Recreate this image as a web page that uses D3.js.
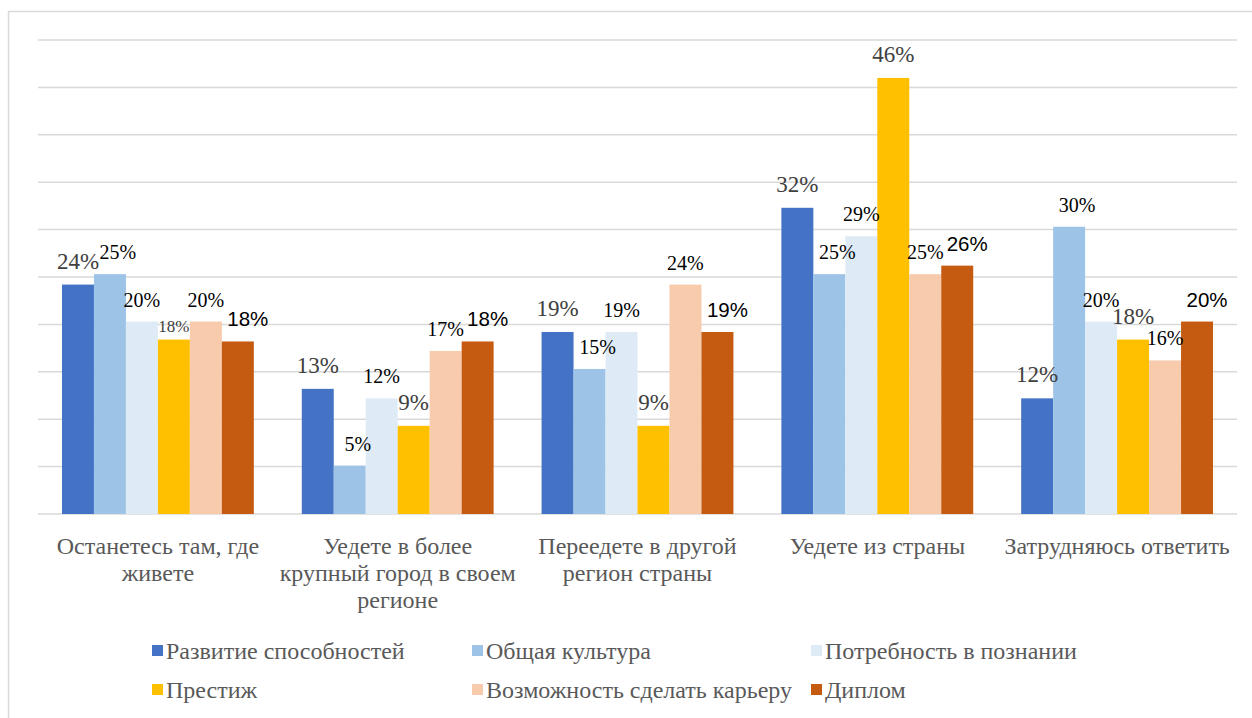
<!DOCTYPE html>
<html><head><meta charset="utf-8">
<script src="https://cdn.jsdelivr.net/npm/d3@7"></script>
<style>body{margin:0;background:#fff}svg{display:block}
.serif{font-family:'Liberation Serif','Times New Roman',serif}
.sans{font-family:'Liberation Sans',Arial,sans-serif}
</style>
</head><body>
<svg id="c" width="1252" height="718"></svg>
<script>
const categories = [
  ["Останетесь там, где", "живете"],
  ["Уедете в более", "крупный город в своем", "регионе"],
  ["Переедете в другой", "регион страны"],
  ["Уедете из страны"],
  ["Затрудняюсь ответить"]
];
const seriesNames = ["Развитие способностей","Общая культура","Потребность в познании","Престиж","Возможность сделать карьеру","Диплом"];
const seriesColors = ["#4472c4","#9dc3e6","#deebf7","#ffc000","#f8cbad","#c55a11"];
const razvitie   = [24.2, 13.2, 19.2, 32.3, 12.2];
const kultura    = [25.3, 5.1, 15.3, 25.3, 30.3];
const poznanie   = [20.3, 12.2, 19.2, 29.3, 20.3];
const prestizh   = [18.4, 9.3, 9.3, 46.0, 18.4];
const kariera    = [20.3, 17.2, 24.2, 25.3, 16.2];
const diplom     = [18.2, 18.2, 19.2, 26.2, 20.3];
const seriesValues = [razvitie, kultura, poznanie, prestizh, kariera, diplom];
const yTicks = [0,5,10,15,20,25,30,35,40,45,50];

const svg = d3.select("#c");
const pLeft = 38, pRight = 1237, pTop = 40, pBottom = 514;

// frame
svg.append("path").attr("d","M8.5,718 V11.5 H1252").attr("fill","none").attr("stroke","#d9d9d9").attr("stroke-width",1.5);

const x0 = d3.scaleBand().domain(d3.range(categories.length)).range([pLeft,pRight]).paddingInner(0.2).paddingOuter(0.1);
const x1 = d3.scaleBand().domain(d3.range(seriesNames.length)).range([0,x0.bandwidth()]).padding(0);
const y = d3.scaleLinear().domain([0,50]).range([pBottom,pTop]);

svg.append("g").selectAll("line").data(yTicks).join("line")
  .attr("x1",pLeft).attr("x2",pRight).attr("y1",d=>y(d)).attr("y2",d=>y(d))
  .attr("stroke","#d9d9d9").attr("stroke-width",1.5);

const groups = svg.append("g").selectAll("g").data(categories).join("g")
  .attr("transform",(d,i)=>`translate(${x0(i)},0)`);

groups.each(function(c,ci){
  const g = d3.select(this);
  seriesValues.forEach((vals,si)=>{
    g.append("rect").attr("x",x1(si)).attr("width",x1.bandwidth())
      .attr("y",y(vals[ci])).attr("height",y(0)-y(vals[ci])).attr("fill",seriesColors[si]);
  });
});

// label styles per series
const labelDx   = [0, 8, 0, 0, 0, 10];
const labelGray = [true, false, false, true, false, false];
groups.each(function(c,ci){
  const g = d3.select(this);
  seriesValues.forEach((vals,si)=>{
    const sans = si===5;
    const small = (si===3 && ci===0);
    const gray = labelGray[si];
    g.append("text").attr("class", sans ? "sans" : "serif")
      .attr("x",x1(si)+x1.bandwidth()/2 + labelDx[si])
      .attr("y",y(vals[ci]) - (small ? 8 : (gray ? 16 : 15)))
      .attr("text-anchor","middle")
      .attr("font-size", small ? 17 : (sans ? 20.5 : (gray ? 23 : 20)))
      .attr("fill", gray ? "#404040" : "#000")
      .text(Math.round(vals[ci])+"%");
  });
});

// category labels
groups.each(function(c,ci){
  const t = d3.select(this).append("text").attr("class","serif").attr("text-anchor","middle")
    .attr("font-size",24).attr("fill","#595959");
  c.forEach((line,li)=>{
    t.append("tspan").attr("x",x0.bandwidth()/2).attr("y",554+li*27).text(line);
  });
});

// legend
const legX = [152, 472, 811], legY = [659, 698];
const leg = svg.append("g").selectAll("g").data(seriesNames).join("g")
  .attr("transform",(d,i)=>`translate(${legX[i%3]},${legY[Math.floor(i/3)]})`);
leg.append("rect").attr("x",0).attr("y",-14).attr("width",11).attr("height",11).attr("fill",(d,i)=>seriesColors[i]);
leg.append("text").attr("class","serif").attr("x",14).attr("y",0).attr("font-size",24).attr("fill","#595959").text(d=>d);
</script>
</body></html>
